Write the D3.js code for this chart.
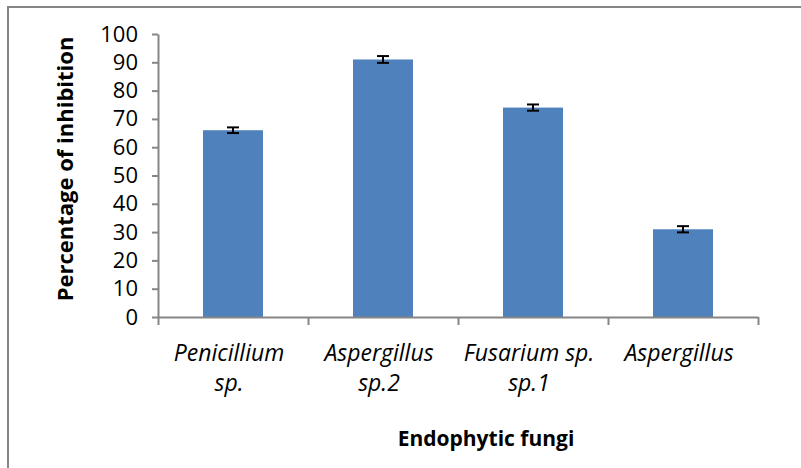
<!DOCTYPE html>
<html>
<head>
<meta charset="utf-8">
<script src="https://cdn.jsdelivr.net/npm/d3@7"></script>
<style>
  body { margin: 0; background: #fff; }
  text { font-family: "Open Sans", "Liberation Sans", sans-serif; }
</style>
</head>
<body>
<svg width="801" height="468"></svg>
<script>
// data
var labels = [["Penicillium", "sp."], ["Aspergillus", "sp.2"], ["Fusarium sp.", "sp.1"], ["Aspergillus"]];
var values = [66, 91, 74, 31];
var errors = [1.0, 1.2, 1.1, 1.1];
var yTicks = [0, 10, 20, 30, 40, 50, 60, 70, 80, 90, 100];

var svg = d3.select("svg");
var axisColor = "#868686";

// outer frame (runs off the right and bottom edges)
svg.append("rect")
  .attr("x", 8).attr("y", 7)
  .attr("width", 820).attr("height", 480)
  .attr("fill", "none")
  .attr("stroke", axisColor)
  .attr("stroke-width", 2);

var plotLeft = 158, plotRight = 758, plotTop = 34, plotBottom = 317;

var x = d3.scaleBand()
  .domain(d3.range(values.length))
  .range([plotLeft, plotRight])
  .paddingInner(0.6)
  .paddingOuter(0.3);

var y = d3.scaleLinear().domain([0, 100]).range([plotBottom, plotTop]);

// y axis
var yAxis = svg.append("g")
  .attr("transform", "translate(" + plotLeft + ",0)")
  .call(d3.axisLeft(y).tickValues(yTicks).tickSize(6).tickSizeOuter(0).tickPadding(14));
yAxis.selectAll("path, line").attr("stroke", axisColor).attr("stroke-width", 2);
yAxis.selectAll("text")
  .attr("fill", "#000")
  .style("font-size", "22px")
  .style("font-family", "'Open Sans', sans-serif");

// bars
svg.selectAll("rect.bar")
  .data(values)
  .enter().append("rect")
  .attr("class", "bar")
  .attr("x", function(d, i) { return x(i); })
  .attr("width", x.bandwidth())
  .attr("y", function(d) { return y(d); })
  .attr("height", function(d) { return plotBottom - y(d); })
  .attr("fill", "#4f81bd");

// error bars
var eb = svg.selectAll("g.err")
  .data(values)
  .enter().append("g")
  .attr("class", "err");
eb.append("line")
  .attr("x1", function(d, i) { return x(i) + x.bandwidth() / 2; })
  .attr("x2", function(d, i) { return x(i) + x.bandwidth() / 2; })
  .attr("y1", function(d, i) { return y(d + errors[i]); })
  .attr("y2", function(d, i) { return y(d - errors[i]); });
eb.append("line")
  .attr("x1", function(d, i) { return x(i) + x.bandwidth() / 2 - 6; })
  .attr("x2", function(d, i) { return x(i) + x.bandwidth() / 2 + 6; })
  .attr("y1", function(d, i) { return y(d + errors[i]); })
  .attr("y2", function(d, i) { return y(d + errors[i]); });
eb.append("line")
  .attr("x1", function(d, i) { return x(i) + x.bandwidth() / 2 - 6; })
  .attr("x2", function(d, i) { return x(i) + x.bandwidth() / 2 + 6; })
  .attr("y1", function(d, i) { return y(d - errors[i]); })
  .attr("y2", function(d, i) { return y(d - errors[i]); });
eb.selectAll("line").attr("stroke", "#000").attr("stroke-width", 2);

// x axis with category boundary ticks
var xb = d3.scaleLinear().domain([0, values.length]).range([plotLeft, plotRight]);
var xAxis = svg.append("g")
  .attr("transform", "translate(0," + plotBottom + ")")
  .call(d3.axisBottom(xb).ticks(values.length).tickSize(8).tickSizeOuter(0).tickFormat(""));
xAxis.selectAll("path, line").attr("stroke", axisColor).attr("stroke-width", 2);

// category labels
var lab = svg.selectAll("text.cat")
  .data(labels)
  .enter().append("text")
  .attr("class", "cat")
  .attr("text-anchor", "middle")
  .attr("font-style", "italic")
  .style("font-size", "23px")
  .attr("transform", function(d, i) { return "translate(" + (x(i) + x.bandwidth() / 2 - 4) + ",361)"; });
lab.selectAll("tspan")
  .data(function(d) { return d; })
  .enter().append("tspan")
  .attr("x", 0)
  .attr("dy", function(d, j) { return j === 0 ? 0 : 30; })
  .text(function(d) { return d; });

// axis titles
svg.append("text")
  .attr("x", 486)
  .attr("y", 446)
  .attr("text-anchor", "middle")
  .attr("font-weight", "bold")
  .style("font-size", "21px")
  .text("Endophytic fungi");

svg.append("text")
  .attr("transform", "translate(73,169) rotate(-90)")
  .attr("text-anchor", "middle")
  .attr("font-weight", "bold")
  .style("font-size", "22px")
  .text("Percentage of inhibition");
</script>
</body>
</html>
